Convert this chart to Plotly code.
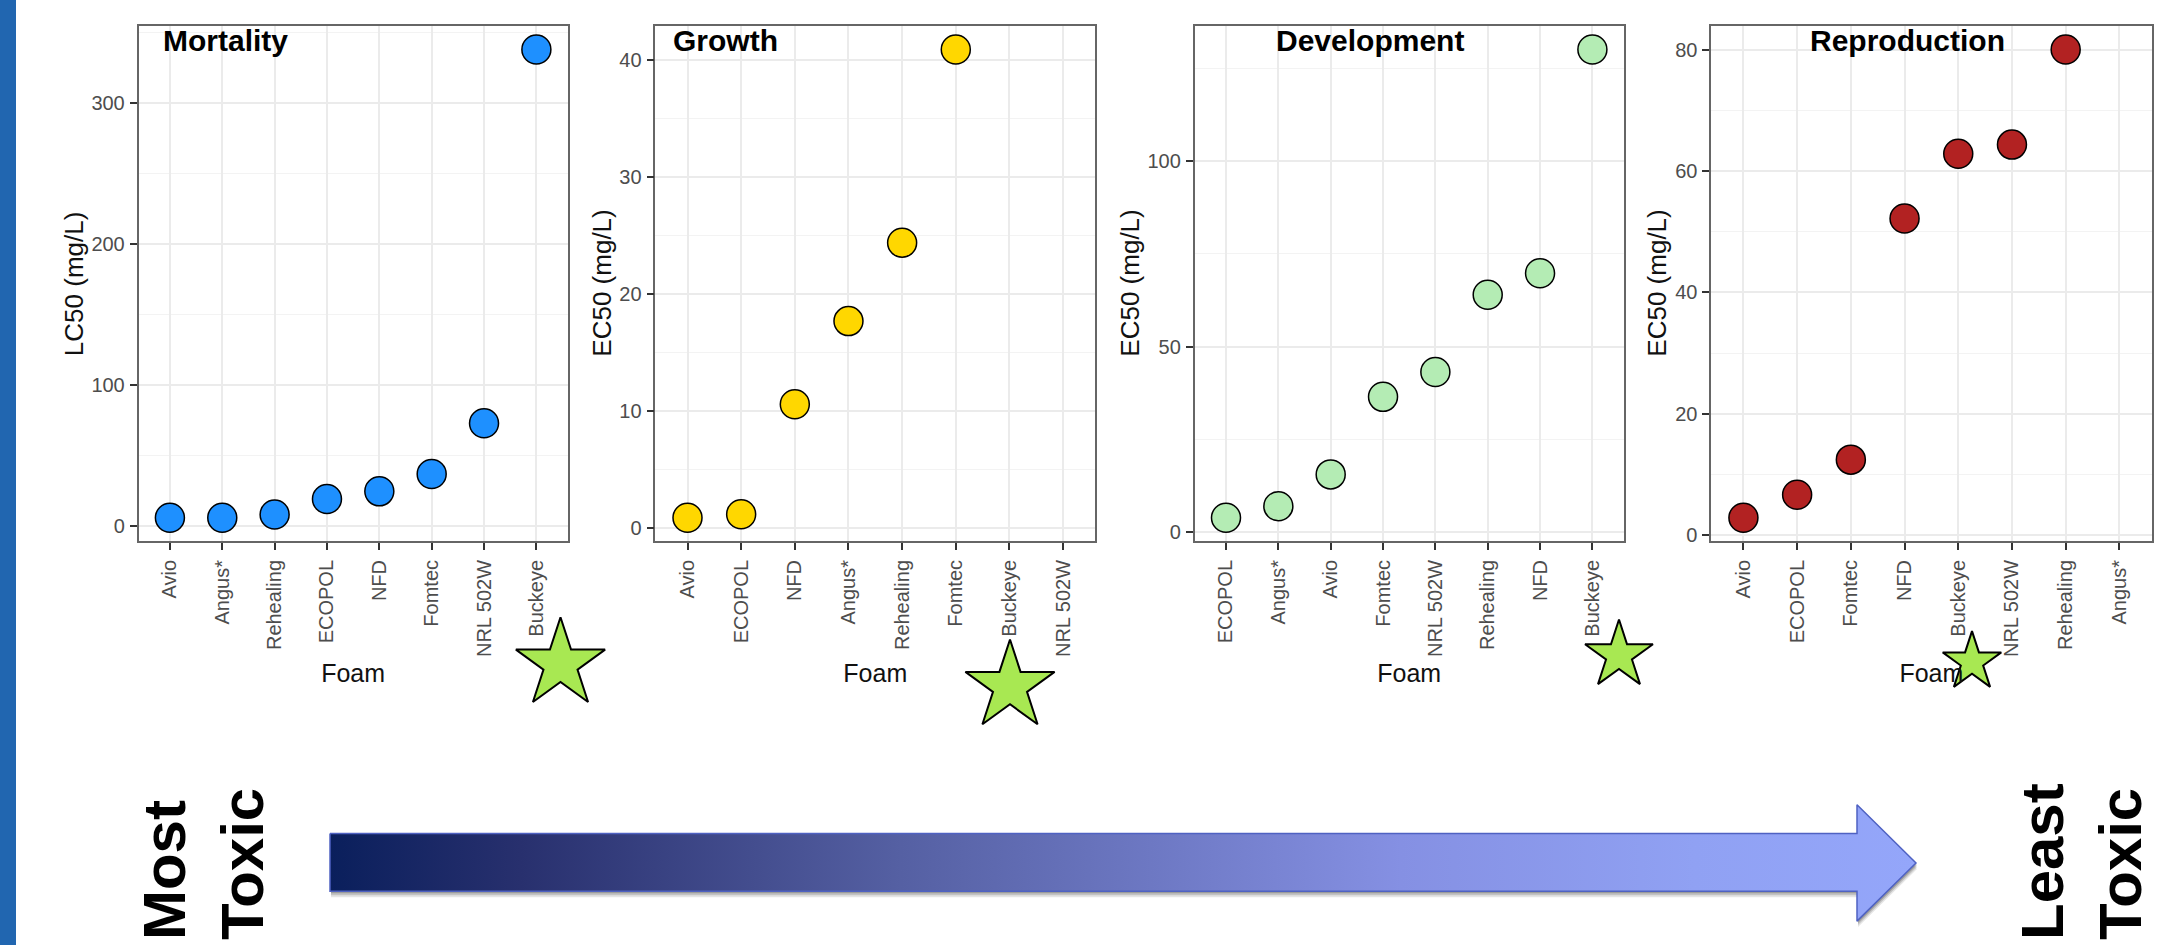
import plotly.graph_objects as go

# ---------------- data ----------------
mortality_foams = ["Avio", "Angus*", "Rehealing", "ECOPOL", "NFD", "Fomtec", "NRL 502W", "Buckeye"]
mortality_lc50 = [5.5, 5.5, 7.8, 18.8, 24.3, 36.6, 72.6, 338.0]

growth_foams = ["Avio", "ECOPOL", "NFD", "Angus*", "Rehealing", "Fomtec", "Buckeye", "NRL 502W"]
growth_ec50 = [0.9, 1.2, 10.6, 17.7, 24.4, 40.9, None, None]

development_foams = ["ECOPOL", "Angus*", "Avio", "Fomtec", "NRL 502W", "Rehealing", "NFD", "Buckeye"]
development_ec50 = [3.9, 7.0, 15.6, 36.5, 43.2, 64.0, 69.8, 130.1]

reproduction_foams = ["Avio", "ECOPOL", "Fomtec", "NFD", "Buckeye", "NRL 502W", "Rehealing", "Angus*"]
reproduction_ec50 = [2.8, 6.6, 12.4, 52.2, 62.9, 64.4, 80.1, None]

panel_titles = ["Mortality", "Growth", "Development", "Reproduction"]
y_titles = ["LC50 (mg/L)", "EC50 (mg/L)", "EC50 (mg/L)", "EC50 (mg/L)"]
x_title = "Foam"
point_colors = ["#1e90ff", "#ffd700", "#b4ecb4", "#b22222"]
major_dtick = [100, 10, 50, 20]
minor_dtick = [50, 5, 25, 10]

# ---------------- layout geometry (pixels of the 2157x950 page) ----------------
W, H = 2157, 950
panel_x = [(138.5, 567.8), (655.3, 1095.3), (1194.6, 1623.8), (1711.2, 2151.6)]
panel_y = (26.2, 544.1)
title_pos = [(225.5, 41), (725.7, 41), (1369.9, 41), (1907.2, 41)]
y_title_x = [73.5, 602, 1130, 1657]

# highlighted (least toxic) foam stars
star_x = [560.5, 1010, 1619, 1972]
star_y = [667.6, 690, 658.7, 665.4]
star_size = [67, 67, 51, 44]

# gradient arrow
arrow_x = [330, 1857, 1857, 1916, 1857, 1857, 330, 330]
arrow_y = [838, 838, 809, 867.5, 926, 896, 896, 838]
arrow_colors = [[0.0, "#0a1f5c"], [0.12, "#28306e"], [0.36, "#5560a3"],
                [0.675, "#8590e3"], [0.86, "#90a1f3"], [1.0, "#94a6fa"]]

FONT = "Liberation Sans, Arial, Helvetica, sans-serif"
TICK_SIZE = 20

series = [
    (mortality_foams, mortality_lc50),
    (growth_foams, growth_ec50),
    (development_foams, development_ec50),
    (reproduction_foams, reproduction_ec50),
]

fig = go.Figure()
layout = {}

for i, (foams, vals) in enumerate(series):
    k = i + 1
    xa = "x" if k == 1 else f"x{k}"
    ya = "y" if k == 1 else f"y{k}"
    fig.add_trace(go.Scatter(
        x=foams, y=vals, mode="markers", xaxis=xa, yaxis=ya, showlegend=False,
        marker=dict(size=29, color=point_colors[i], opacity=1,
                    line=dict(color="black", width=1.5)),
        cliponaxis=False, hoverinfo="x+y",
    ))
    present = [v for v in vals if v is not None]
    lo, hi = min(present), max(present)
    pad = 0.05 * (hi - lo)
    x0, x1 = panel_x[i]
    layout["xaxis" if k == 1 else f"xaxis{k}"] = dict(
        domain=[x0 / W, x1 / W], anchor=ya, type="category",
        categoryorder="array", categoryarray=foams, range=[-0.6, len(foams) - 0.4],
        tickangle=-90, tickfont=dict(family=FONT, size=TICK_SIZE, color="#4d4d4d"),
        ticks="outside", ticklen=7, tickwidth=1.5, tickcolor="#333333", ticklabelstandoff=2,
        showgrid=True, gridcolor="#ebebeb", gridwidth=2, zeroline=False,
        showline=True, mirror=True, linecolor="#666666", linewidth=1.5,
        title=dict(text=x_title, font=dict(family=FONT, size=25, color="#111111"), standoff=8),
        fixedrange=True,
    )
    layout["yaxis" if k == 1 else f"yaxis{k}"] = dict(
        domain=[(H - panel_y[1]) / H, (H - panel_y[0]) / H], anchor=xa,
        range=[lo - pad, hi + pad], dtick=major_dtick[i], tick0=0,
        tickfont=dict(family=FONT, size=TICK_SIZE, color="#4d4d4d"),
        ticks="outside", ticklen=7, tickwidth=1.5, tickcolor="#333333", ticklabelstandoff=1,
        showgrid=True, gridcolor="#ebebeb", gridwidth=2, zeroline=False,
        minor=dict(dtick=minor_dtick[i], tick0=0, showgrid=True, gridcolor="#f3f3f3", gridwidth=1),
        showline=True, mirror=True, linecolor="#666666", linewidth=1.5,
        fixedrange=True,
    )

# overlay pixel-space axes for decorations
layout["xaxis5"] = dict(domain=[0, 1], range=[0, W], anchor="y5", visible=False, fixedrange=True)
layout["yaxis5"] = dict(domain=[0, 1], range=[H, 0], anchor="x5", visible=False, fixedrange=True)

# arrow shadow + arrow with horizontal gradient
for dy, op in [(6, 0.10), (4, 0.15), (2, 0.2)]:
    fig.add_trace(go.Scatter(
        x=[v + 1 for v in arrow_x], y=[v + dy for v in arrow_y], xaxis="x5", yaxis="y5",
        mode="lines", fill="toself", fillcolor=f"rgba(0,0,0,{op})",
        line=dict(width=0, color="rgba(0,0,0,0)"), showlegend=False, hoverinfo="skip",
    ))
fig.add_trace(go.Scatter(
    x=arrow_x, y=arrow_y, xaxis="x5", yaxis="y5", mode="lines", fill="toself",
    fillgradient=dict(type="horizontal", colorscale=arrow_colors),
    line=dict(color="#4f62c2", width=1.5), showlegend=False, hoverinfo="skip",
))

# stars
fig.add_trace(go.Scatter(
    x=star_x, y=star_y, xaxis="x5", yaxis="y5", mode="markers", showlegend=False,
    marker=dict(symbol="star", size=star_size, color="#a8e852", opacity=1,
                line=dict(color="black", width=2)),
    hoverinfo="skip",
))


def px_x(v):
    return v / W


def px_y(v):
    return (H - v) / H


annotations = []
for i, t in enumerate(panel_titles):
    annotations.append(dict(
        x=px_x(title_pos[i][0]), y=px_y(title_pos[i][1]), xref="paper", yref="paper",
        text=f"<b>{t}</b>", showarrow=False, xanchor="center", yanchor="middle",
        font=dict(family=FONT, size=30, color="black"),
    ))
    annotations.append(dict(
        x=px_x(y_title_x[i]), y=px_y((panel_y[0] + panel_y[1]) / 2), xref="paper", yref="paper",
        text=y_titles[i], textangle=-90, showarrow=False, xanchor="center", yanchor="middle",
        font=dict(family=FONT, size=26, color="#111111"),
    ))
annotations.append(dict(
    x=px_x(203), y=px_y(947), xref="paper", yref="paper", text="<b>Most<br>Toxic</b>",
    textangle=-90, showarrow=False, xanchor="center", yanchor="bottom", align="left",
    font=dict(family=FONT, size=60, color="black"),
))
annotations.append(dict(
    x=px_x(2156), y=px_y(947), xref="paper", yref="paper", text="<b>Least<br>Toxic</b>",
    textangle=-90, showarrow=False, xanchor="right", yanchor="bottom", align="left",
    font=dict(family=FONT, size=60, color="black"),
))

shapes = [dict(type="rect", xref="paper", yref="paper", x0=0, x1=px_x(16), y0=0, y1=1,
               fillcolor="#2166b0", line=dict(width=0), layer="above")]

fig.update_layout(
    width=W, height=H, margin=dict(l=0, r=0, t=0, b=0),
    paper_bgcolor="white", plot_bgcolor="rgba(0,0,0,0)",
    font=dict(family=FONT), showlegend=False,
    annotations=annotations, shapes=shapes, **layout,
)

fig.write_html("out.html", config={"displayModeBar": False})
